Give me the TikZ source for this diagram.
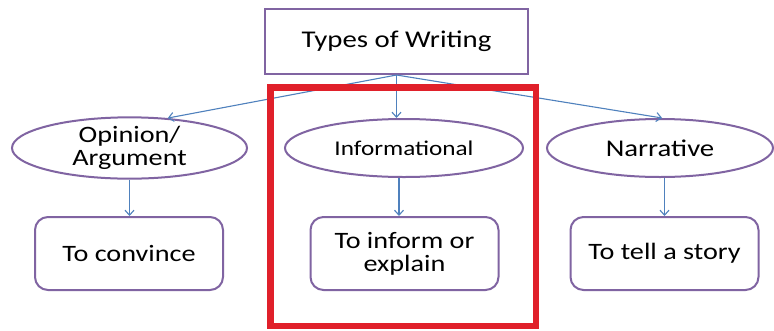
\documentclass[tikz,border=0pt]{standalone}
\usepackage{fontspec}
\setmainfont{Carlito}[FakeStretch=1.2]
\usetikzlibrary{shapes.geometric,arrows.meta}
\definecolor{boxpurple}{HTML}{8064A2}
\definecolor{arrowblue}{HTML}{4F81BD}
\definecolor{hilite}{HTML}{E0202A}
\tikzset{
  topbox/.style={draw=boxpurple,line width=2pt,rectangle,inner sep=0pt,align=center},
  typeell/.style={draw=boxpurple,line width=2pt,ellipse,inner sep=0pt,align=center,minimum height=58pt},
  purposebox/.style={draw=boxpurple,line width=2pt,rectangle,rounded corners=13pt,inner sep=0pt,align=center,minimum width=188pt,minimum height=73pt},
  link/.style={draw=arrowblue,line width=1.1pt,-{Straight Barb[length=5pt,width=9pt,line width=1.1pt]}},
  bigfont/.style={font=\fontsize{24}{25}\selectfont},
  midfont/.style={font=\fontsize{23.5}{23}\selectfont},
  narfont/.style={font=\fontsize{24}{23}\selectfont},
  smallfont/.style={font=\fontsize{21}{21}\selectfont}
}
\begin{document}
\begin{tikzpicture}[x=1pt,y=-1pt]
\useasboundingbox (0,0) rectangle (774,330);
\fill[white] (0,0) rectangle (774,330);
\node[topbox,bigfont,minimum width=263pt,minimum height=65pt] (top) at (396.5,41.5) {Types of Writing};
\node[typeell,midfont,minimum width=235pt] (op) at (129.5,148) {Opinion/\\Argument};
\node[typeell,smallfont,minimum width=238pt] (info) at (404,148) {Informational};
\node[typeell,narfont,minimum width=226pt] (nar) at (660,148) {Narrative};
\node[purposebox,midfont] (conv) at (129,253.5) {To convince};
\node[purposebox,midfont] (inf) at (404.5,253.5) {To inform or\\explain};
\node[purposebox,midfont] (tell) at (664.5,253.5) {To tell a story};
\draw[link] (top.south) -- (op.38);
\draw[link] (top.south) -- (top.south |- info.north);
\draw[link] (top.south) -- (nar.86);
\draw[link] (op.south) -- (op.south |- conv.north);
\draw[link] ([xshift=-5pt]info.south) -- ([xshift=-5pt]info.south |- inf.north);
\draw[link] (nar.south -| tell.north) -- (tell.north);
\draw[hilite,line width=6.5pt] (270.5,87.5) rectangle (536,326);
\end{tikzpicture}
\end{document}
